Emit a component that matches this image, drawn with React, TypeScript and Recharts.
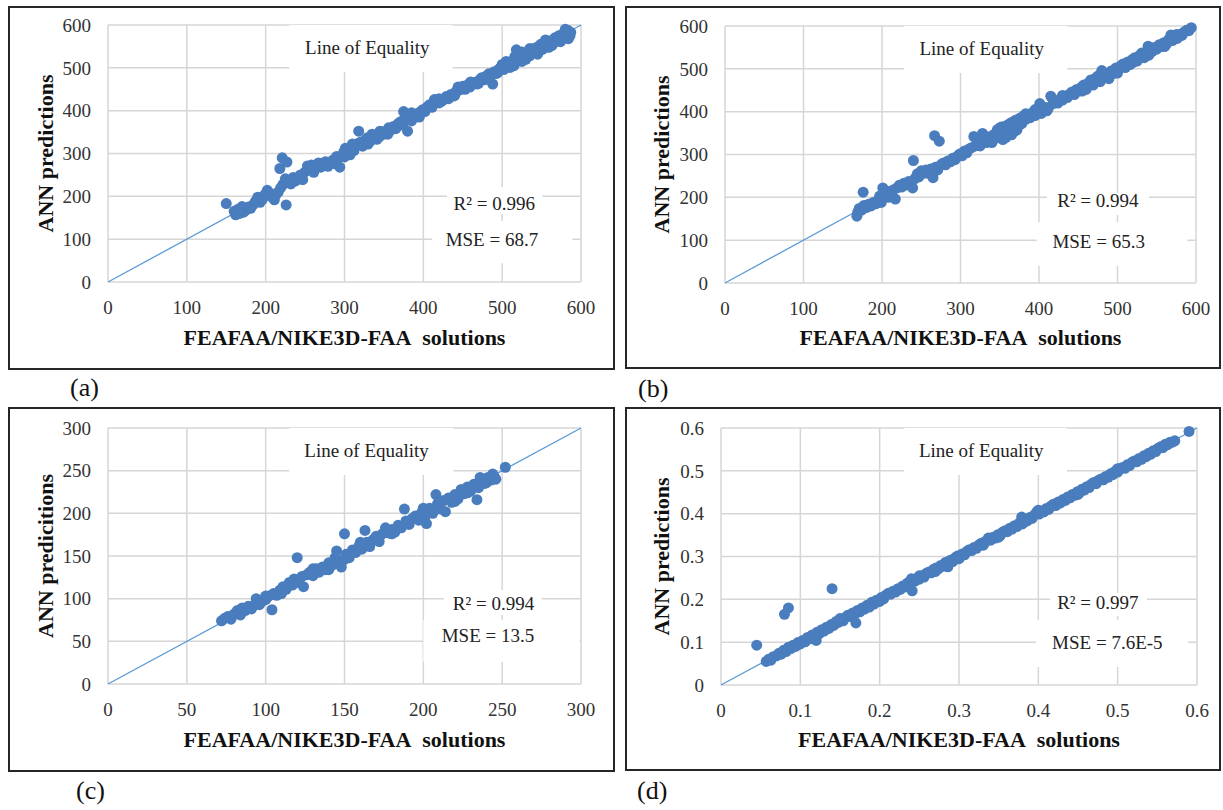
import React from 'react'
import { CartesianGrid, ReferenceArea, ReferenceDot, Scatter, ScatterChart, XAxis, YAxis } from 'recharts'

type Pt = [number, number]

const serif = '"Liberation Serif", "Times New Roman", serif'
const dotColor = '#4a7dbd'
const lineColor = '#5b9bd5'
const gridColor = '#d6d6d6'

const ticksBig = [0, 100, 200, 300, 400, 500, 600]
const ticksMid = [0, 50, 100, 150, 200, 250, 300]
const ticksSmall = [0, 0.1, 0.2, 0.3, 0.4, 0.5, 0.6]

const xTitle = 'FEAFAA/NIKE3D-FAA\u00a0 solutions'
const yTitle = 'ANN predictions'
const yTitleC = 'ANN predicitions'

const pointsA: Pt[] = [
  [150, 183], [160, 165], [162, 157], [165, 170], [167, 160], [170, 176], [172, 163], [175, 168], [178, 175], [181, 172],
  [184, 180], [187, 188], [190, 198], [193, 186], [196, 193], [199, 204], [202, 214], [205, 208], [208, 198], [211, 192],
  [213, 204], [216, 210], [218, 265], [219, 220], [221, 290], [222, 228], [225, 241], [226, 180], [227, 280], [229, 232],
  [232, 229], [235, 244], [238, 236], [241, 242], [244, 250], [247, 239], [250, 257], [253, 271], [256, 262], [258, 273],
  [261, 256], [264, 272], [267, 278], [270, 268], [273, 277], [276, 281], [279, 270], [282, 278], [285, 284], [288, 276],
  [291, 286], [294, 268], [297, 294], [299, 303], [301, 312], [304, 305], [307, 297], [309, 316], [312, 307], [315, 322],
  [318, 352], [320, 326], [323, 317], [326, 331], [329, 337], [332, 328], [335, 345], [338, 340], [341, 333], [344, 338],
  [347, 351], [350, 345], [353, 352], [356, 360], [359, 355], [362, 363], [365, 358], [368, 370], [371, 374], [374, 366],
  [375, 398], [377, 386], [380, 352], [382, 381], [385, 376], [387, 389], [390, 392], [393, 386], [396, 397], [399, 402],
  [402, 398], [405, 409], [408, 414], [411, 408], [414, 426], [417, 420], [420, 428], [423, 422], [426, 426], [429, 433],
  [432, 428], [435, 438], [438, 434], [441, 444], [444, 455], [447, 449], [450, 457], [453, 450], [456, 460], [459, 455],
  [462, 463], [465, 466], [468, 462], [471, 471], [474, 477], [477, 472], [480, 481], [483, 486], [486, 482], [488, 462],
  [490, 491], [493, 487], [496, 497], [499, 502], [502, 496], [505, 507], [507, 513], [510, 501], [513, 516], [516, 526],
  [518, 542], [520, 531], [522, 520], [525, 537], [527, 526], [530, 520], [532, 533], [535, 528], [538, 540], [541, 546],
  [544, 537], [546, 550], [549, 555], [551, 543], [554, 552], [557, 559], [559, 548], [562, 563], [565, 557], [567, 570],
  [570, 565], [572, 575], [574, 561], [577, 579], [579, 570], [580, 590], [582, 577], [584, 568], [586, 575], [587, 583],
  [505, 515], [515, 505], [525, 515], [535, 545], [545, 532], [555, 565], [563, 552], [575, 566], [583, 588], [260, 268],
  [290, 293], [300, 292], [310, 322], [385, 395], [395, 385], [330, 322], [345, 352], [355, 345], [420, 418], [440, 436],
  [460, 467], [470, 464], [480, 474], [495, 490], [500, 508],
]

const pointsB: Pt[] = [
  [168, 156], [169, 165], [171, 174], [174, 170], [176, 212], [177, 181], [180, 176], [183, 184], [186, 180], [189, 188],
  [192, 185], [195, 194], [197, 203], [199, 188], [201, 222], [203, 208], [206, 214], [208, 200], [211, 210], [214, 217],
  [217, 196], [219, 222], [222, 228], [225, 224], [228, 233], [231, 229], [234, 237], [237, 231], [239, 222], [240, 286],
  [242, 244], [245, 255], [247, 248], [250, 262], [253, 256], [256, 264], [259, 256], [262, 266], [265, 246], [267, 344],
  [268, 270], [271, 264], [273, 331], [275, 276], [278, 280], [281, 276], [284, 285], [287, 283], [290, 291], [293, 288],
  [296, 296], [299, 301], [302, 297], [305, 308], [308, 304], [311, 313], [314, 316], [317, 342], [319, 320], [322, 325],
  [325, 320], [328, 349], [330, 336], [333, 328], [336, 341], [339, 332], [342, 346], [345, 338], [347, 358], [350, 344],
  [352, 364], [354, 335], [357, 366], [360, 350], [362, 371], [365, 346], [367, 362], [370, 380], [372, 358], [375, 384],
  [378, 372], [380, 390], [383, 382], [386, 394], [389, 386], [392, 398], [395, 391], [398, 400], [401, 419], [403, 396],
  [406, 406], [409, 410], [412, 408], [415, 436], [418, 419], [421, 424], [424, 420], [427, 430], [430, 427], [433, 435],
  [436, 433], [439, 441], [442, 446], [445, 440], [448, 452], [451, 448], [454, 457], [457, 462], [460, 452], [463, 467],
  [466, 474], [469, 462], [472, 478], [475, 483], [478, 470], [480, 496], [483, 489], [486, 480], [489, 477], [492, 495],
  [495, 489], [498, 502], [501, 497], [504, 507], [507, 511], [510, 503], [513, 516], [516, 510], [519, 522], [522, 526],
  [525, 518], [528, 531], [531, 537], [534, 526], [537, 533], [539, 553], [541, 545], [544, 540], [547, 550], [550, 546],
  [553, 556], [556, 552], [559, 561], [562, 557], [565, 568], [568, 579], [570, 566], [573, 574], [576, 571], [579, 580],
  [582, 578], [585, 586], [588, 590], [591, 589], [594, 596],
  [350, 362], [358, 340], [365, 375], [370, 355], [375, 370], [383, 395], [340, 328], [330, 344], [360, 368], [480, 488],
  [500, 490], [520, 515], [540, 532], [560, 552], [575, 580], [455, 448], [470, 470], [430, 438], [410, 402], [395, 405],
]

const pointsC: Pt[] = [
  [72, 74], [74, 77], [76, 79], [78, 76], [80, 82], [82, 86], [84, 81], [85, 89], [87, 86], [89, 91],
  [91, 88], [93, 93], [94, 100], [96, 93], [98, 97], [100, 99], [102, 103], [104, 87], [105, 106], [107, 104],
  [109, 110], [111, 114], [113, 111], [115, 119], [117, 116], [118, 123], [120, 148], [121, 119], [123, 126], [124, 114],
  [126, 128], [128, 131], [130, 127], [132, 135], [134, 131], [136, 137], [138, 134], [140, 142], [142, 139], [144, 148],
  [145, 156], [147, 144], [148, 137], [150, 176], [151, 152], [153, 148], [155, 157], [157, 154], [159, 161], [161, 158],
  [163, 180], [164, 166], [166, 161], [168, 169], [170, 173], [172, 167], [174, 176], [176, 183], [178, 177], [180, 181],
  [182, 178], [184, 186], [186, 183], [188, 205], [189, 191], [191, 187], [193, 194], [195, 197], [197, 192], [199, 201],
  [201, 196], [202, 188], [204, 206], [206, 200], [208, 222], [209, 211], [211, 205], [213, 215], [214, 202], [216, 218],
  [218, 213], [220, 222], [222, 217], [224, 228], [226, 223], [228, 231], [230, 226], [232, 234], [234, 216], [235, 230],
  [237, 238], [239, 235], [241, 242], [243, 239], [245, 243], [252, 254],
  [130, 135], [140, 134], [150, 146], [160, 166], [180, 176], [200, 206], [210, 214], [220, 214], [228, 224], [236, 242],
  [240, 236], [244, 246], [246, 240], [110, 106], [100, 103],
]

const pointsD: Pt[] = [
  [0.045, 0.093], [0.057, 0.055], [0.06, 0.06], [0.063, 0.058], [0.066, 0.066], [0.07, 0.068], [0.073, 0.074], [0.076, 0.072],
  [0.079, 0.081], [0.08, 0.165], [0.082, 0.078], [0.085, 0.18], [0.085, 0.088], [0.088, 0.085], [0.091, 0.093], [0.094, 0.09],
  [0.097, 0.099], [0.1, 0.096], [0.103, 0.104], [0.106, 0.101], [0.109, 0.111], [0.112, 0.108], [0.115, 0.117], [0.118, 0.113],
  [0.12, 0.104], [0.121, 0.123], [0.124, 0.12], [0.127, 0.129], [0.13, 0.126], [0.133, 0.135], [0.136, 0.132], [0.139, 0.141],
  [0.14, 0.225], [0.142, 0.139], [0.145, 0.148], [0.148, 0.146], [0.151, 0.152], [0.154, 0.15], [0.157, 0.158], [0.16, 0.163],
  [0.163, 0.16], [0.166, 0.168], [0.169, 0.166], [0.17, 0.145], [0.172, 0.174], [0.175, 0.171], [0.178, 0.18], [0.181, 0.177],
  [0.184, 0.186], [0.187, 0.182], [0.19, 0.193], [0.193, 0.189], [0.196, 0.198], [0.199, 0.196], [0.202, 0.204], [0.205, 0.201],
  [0.208, 0.21], [0.211, 0.214], [0.214, 0.212], [0.217, 0.219], [0.22, 0.217], [0.223, 0.225], [0.226, 0.223], [0.229, 0.231],
  [0.232, 0.229], [0.235, 0.238], [0.238, 0.235], [0.24, 0.248], [0.241, 0.22], [0.244, 0.242], [0.247, 0.249], [0.25, 0.247],
  [0.253, 0.255], [0.256, 0.252], [0.259, 0.261], [0.262, 0.264], [0.265, 0.262], [0.268, 0.27], [0.271, 0.273], [0.274, 0.271],
  [0.277, 0.279], [0.28, 0.277], [0.283, 0.286], [0.286, 0.276], [0.289, 0.291], [0.292, 0.288], [0.295, 0.297], [0.298, 0.301],
  [0.301, 0.298], [0.304, 0.306], [0.307, 0.304], [0.31, 0.312], [0.313, 0.316], [0.316, 0.314], [0.319, 0.321], [0.322, 0.319],
  [0.325, 0.327], [0.328, 0.331], [0.331, 0.328], [0.334, 0.336], [0.337, 0.343], [0.34, 0.338], [0.343, 0.345], [0.346, 0.343],
  [0.349, 0.351], [0.352, 0.349], [0.355, 0.357], [0.358, 0.36], [0.361, 0.358], [0.364, 0.366], [0.367, 0.364], [0.37, 0.372],
  [0.373, 0.37], [0.376, 0.378], [0.379, 0.392], [0.38, 0.376], [0.383, 0.385], [0.386, 0.383], [0.389, 0.391], [0.392, 0.389],
  [0.395, 0.397], [0.398, 0.404], [0.401, 0.399], [0.404, 0.406], [0.407, 0.404], [0.41, 0.412], [0.413, 0.41], [0.416, 0.418],
  [0.419, 0.422], [0.422, 0.419], [0.425, 0.427], [0.428, 0.425], [0.431, 0.433], [0.434, 0.431], [0.437, 0.439], [0.44, 0.437],
  [0.443, 0.445], [0.446, 0.443], [0.449, 0.451], [0.452, 0.449], [0.455, 0.457], [0.458, 0.455], [0.461, 0.463], [0.464, 0.461],
  [0.467, 0.469], [0.47, 0.473], [0.473, 0.47], [0.476, 0.478], [0.479, 0.481], [0.482, 0.479], [0.485, 0.487], [0.488, 0.485],
  [0.491, 0.493], [0.494, 0.491], [0.497, 0.499], [0.5, 0.497], [0.503, 0.505], [0.506, 0.508], [0.509, 0.506], [0.512, 0.514],
  [0.515, 0.512], [0.518, 0.52], [0.521, 0.523], [0.524, 0.521], [0.527, 0.529], [0.53, 0.527], [0.533, 0.535], [0.536, 0.533],
  [0.539, 0.541], [0.542, 0.539], [0.545, 0.547], [0.548, 0.545], [0.551, 0.553], [0.554, 0.556], [0.557, 0.554], [0.56, 0.562],
  [0.563, 0.561], [0.566, 0.567], [0.569, 0.567], [0.572, 0.57], [0.59, 0.592],
  [0.25, 0.255], [0.3, 0.295], [0.35, 0.345], [0.4, 0.408], [0.45, 0.445], [0.5, 0.505], [0.2, 0.195], [0.15, 0.155],
  [0.27, 0.265], [0.33, 0.326],
]

type Note = { text: string; at: Pt; box: [number, number, number, number] }

type PanelProps = {
  left: number
  top: number
  width: number
  height: number
  yAxisWidth: number
  marginTop: number
  marginRight: number
  xAxisHeight: number
  yTitleOffset: number
  xTitleOffset: number
  max: number
  ticks: number[]
  points: Pt[]
  yLabel: string
  tag: string
  tagLeft: number
  tagTop: number
  notes: Note[]
}

const dot = (props: any) => <circle cx={props.cx} cy={props.cy} r={5.5} fill={dotColor} />

const XTick = (props: any) => (
  <text x={props.x} y={props.y} dy="0.71em" textAnchor="middle" fontFamily={serif} fontSize={19} fill="#333">
    {props.payload.value}
  </text>
)

const YTick = (props: any) => (
  <text x={props.x} y={props.y} dy="0.355em" textAnchor="end" fontFamily={serif} fontSize={19} fill="#333">
    {props.payload.value}
  </text>
)

const xTitleContent = (offset: number) => (props: any) => {
  const vb = props.viewBox || {}
  return (
    <text
      x={vb.x + vb.width / 2}
      y={vb.y + vb.height - offset}
      textAnchor="middle"
      fontFamily={serif}
      fontSize={22}
      fontWeight="bold"
      fill="#111"
    >
      {xTitle}
    </text>
  )
}

const yTitleContent = (label: string, offset: number) => (props: any) => {
  const vb = props.viewBox || {}
  const cx = vb.x + offset
  const cy = vb.y + vb.height / 2
  return (
    <text
      x={cx}
      y={cy}
      dy="0.355em"
      transform={`rotate(-90 ${cx} ${cy})`}
      textAnchor="middle"
      fontFamily={serif}
      fontSize={22}
      fontWeight="bold"
      fill="#111"
    >
      {label}
    </text>
  )
}

const noteContent = (text: string) => (props: any) => {
  const vb = props.viewBox || {}
  const cx = vb.cx !== undefined ? vb.cx : vb.x + (vb.width || 0) / 2
  const cy = vb.cy !== undefined ? vb.cy : vb.y + (vb.height || 0) / 2
  return (
    <text x={cx} y={cy} dy="0.355em" textAnchor="middle" fontFamily={serif} fontSize={19} fill="#222">
      {text}
    </text>
  )
}

function Panel(p: PanelProps) {
  const data = p.points.map(([x, y]) => ({ x, y }))
  const equality = [{ x: 0, y: 0 }, { x: p.max, y: p.max }]
  return (
    <>
      <div style={{ position: 'absolute', left: p.left, top: p.top, width: p.width, height: p.height, fontFamily: serif }}>
        <ScatterChart
          width={p.width}
          height={p.height}
          margin={{ top: p.marginTop, right: p.marginRight, bottom: 0, left: 0 }}
        >
          <CartesianGrid stroke={gridColor} strokeWidth={1.5} />
          <XAxis
            type="number"
            dataKey="x"
            domain={[0, p.max]}
            ticks={p.ticks}
            interval={0}
            height={p.xAxisHeight}
            axisLine={false}
            tickLine={false}
            tickSize={0}
            tickMargin={19}
            tick={<XTick />}
            label={{ content: xTitleContent(p.xTitleOffset) }}
          />
          <YAxis
            type="number"
            dataKey="y"
            domain={[0, p.max]}
            ticks={p.ticks}
            interval={0}
            width={p.yAxisWidth}
            axisLine={false}
            tickLine={false}
            tickSize={0}
            tickMargin={17}
            tick={<YTick />}
            label={{ content: yTitleContent(p.yLabel, p.yTitleOffset) }}
          />
          {p.notes.map((n, i) => (
            <ReferenceArea
              key={'box' + i}
              x1={n.box[0]}
              x2={n.box[1]}
              y1={n.box[2]}
              y2={n.box[3]}
              fill="#ffffff"
              fillOpacity={1}
              stroke="none"
            />
          ))}
          <Scatter
            data={equality}
            line={{ stroke: lineColor, strokeWidth: 1.3 }}
            shape={() => <g />}
            isAnimationActive={false}
          />
          <Scatter data={data} shape={dot} isAnimationActive={false} />
          {p.notes.map((n, i) => (
            <ReferenceDot
              key={'txt' + i}
              x={n.at[0]}
              y={n.at[1]}
              r={0}
              fill="none"
              stroke="none"
              label={{ content: noteContent(n.text) }}
            />
          ))}
        </ScatterChart>
      </div>
      <div
        style={{
          position: 'absolute',
          left: p.left,
          top: p.top,
          width: p.width,
          height: p.height,
          border: '2px solid #262626',
          boxSizing: 'border-box',
          pointerEvents: 'none',
        }}
      />
      <div
        style={{
          position: 'absolute',
          left: p.tagLeft,
          top: p.tagTop,
          fontFamily: serif,
          fontSize: 26,
          lineHeight: '26px',
          color: '#111',
        }}
      >
        {p.tag}
      </div>
    </>
  )
}

export default function App() {
  return (
    <div style={{ position: 'absolute', left: 0, top: 0, width: 1223, height: 810, background: '#fff', overflow: 'hidden' }}>
      <Panel
        left={8} top={6} width={607} height={364}
        yAxisWidth={100} marginTop={19} marginRight={34} xAxisHeight={88}
        yTitleOffset={37} xTitleOffset={25}
        max={600} ticks={ticksBig} points={pointsA} yLabel={yTitle}
        tag="(a)" tagLeft={70} tagTop={375}
        notes={[
          { text: 'Line of Equality', at: [329, 547], box: [230, 437, 490, 600] },
          { text: 'R² = 0.996', at: [490, 184], box: [430, 551, 159, 222] },
          { text: 'MSE = 68.7', at: [487, 100], box: [411, 589, 44, 142] },
        ]}
      />
      <Panel
        left={625} top={6} width={596} height={363}
        yAxisWidth={100} marginTop={20} marginRight={25} xAxisHeight={86}
        yTitleOffset={36} xTitleOffset={24}
        max={600} ticks={ticksBig} points={pointsB} yLabel={yTitle}
        tag="(b)" tagLeft={638} tagTop={376}
        notes={[
          { text: 'Line of Equality', at: [327, 549], box: [228, 436, 490, 600] },
          { text: 'R² = 0.994', at: [475, 194], box: [410, 540, 159, 210] },
          { text: 'MSE = 65.3', at: [476, 98], box: [397, 589, 40, 142] },
        ]}
      />
      <Panel
        left={8} top={407} width={607} height={365}
        yAxisWidth={100} marginTop={21} marginRight={34} xAxisHeight={88}
        yTitleOffset={37} xTitleOffset={25}
        max={300} ticks={ticksMid} points={pointsC} yLabel={yTitleC}
        tag="(c)" tagLeft={76} tagTop={778}
        notes={[
          { text: 'Line of Equality', at: [164, 274], box: [115, 219, 245, 300] },
          { text: 'R² = 0.994', at: [244.5, 95], box: [213, 275, 81, 110] },
          { text: 'MSE = 13.5', at: [241, 57], box: [200, 299, 26, 75] },
        ]}
      />
      <Panel
        left={625} top={407} width={596} height={364}
        yAxisWidth={96} marginTop={21} marginRight={24} xAxisHeight={86}
        yTitleOffset={36} xTitleOffset={24}
        max={0.6} ticks={ticksSmall} points={pointsD} yLabel={yTitle}
        tag="(d)" tagLeft={637} tagTop={778}
        notes={[
          { text: 'Line of Equality', at: [0.328, 0.549], box: [0.231, 0.436, 0.49, 0.6] },
          { text: 'R² = 0.997', at: [0.475, 0.194], box: [0.415, 0.537, 0.161, 0.215] },
          { text: 'MSE = 7.6E-5', at: [0.487, 0.1], box: [0.397, 0.589, 0.042, 0.152] },
        ]}
      />
    </div>
  )
}
